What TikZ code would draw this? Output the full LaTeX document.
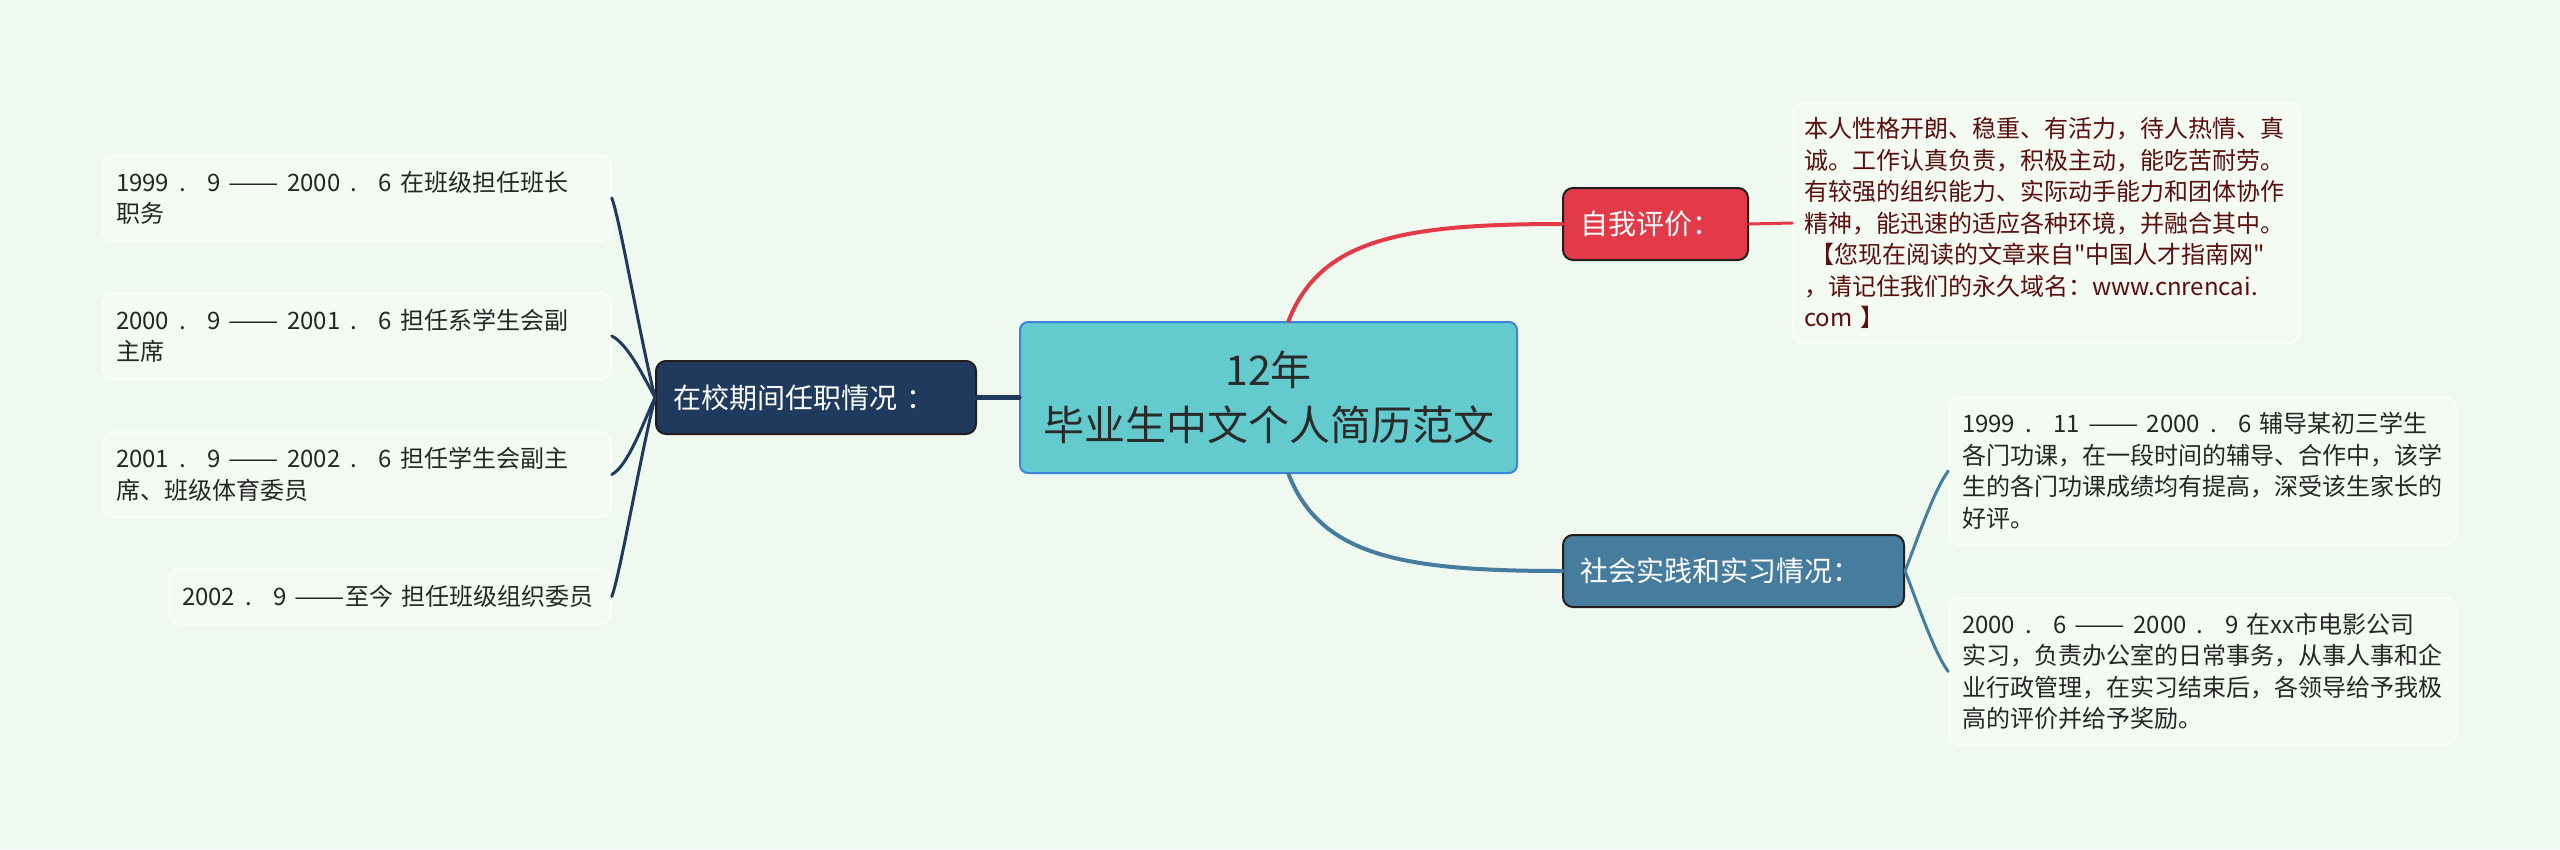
\documentclass[tikz,border=0pt]{standalone}
\usepackage{fontspec}
\usepackage{graphicx}
\newfontfamily\mainf{Noto Sans CJK SC}
\usetikzlibrary{calc}
\definecolor{bg}{HTML}{F0F9EF}
\definecolor{cfill}{HTML}{63CBCE}
\definecolor{cborder}{HTML}{3A84D9}
\definecolor{redc}{HTML}{E33A4A}
\definecolor{bluec}{HTML}{467C9E}
\definecolor{navyc}{HTML}{1F3A5D}
\definecolor{darkb}{HTML}{231E1E}
\definecolor{leaffill}{HTML}{F4FBF3}
\definecolor{leafborder}{HTML}{FCFEFC}
\definecolor{leaftext}{HTML}{262626}
\definecolor{selftext}{HTML}{5A0E0E}
\definecolor{ctext}{HTML}{2A2A2A}
\newcommand\pd{\hspace{0.42em}.\hspace{0.9em}}
\newcommand\dd{\resizebox{2.1em}{\height}{——}}
\begin{document}
\begin{tikzpicture}[x=1pt,y=-1pt,
  centralbox/.style={rounded corners=8pt, inner sep=0pt, line width=2pt, fill=cfill, draw=cborder,
    text=ctext, font=\mainf\fontsize{41}{55}\selectfont, align=center},
  branchbox/.style={rounded corners=10pt, inner ysep=0pt, inner xsep=17pt, line width=2pt, draw=darkb,
    text=white, font=\mainf\fontsize{28}{34}\selectfont, align=left, minimum height=72pt},
  leafbox/.style={rounded corners=10pt, inner ysep=0pt, inner xsep=13pt, line width=1.5pt,
    fill=leaffill, draw=leafborder, text=leaftext, font=\mainf\fontsize{24}{31.5}\selectfont, align=left},
  conn/.style={line width=3pt, line cap=round}
]
\useasboundingbox[fill=bg] (0,0) rectangle (2560,849);

% central
\node[centralbox, minimum width=497pt, minimum height=151pt] (c) at (1268.5,397.5) {12年\\毕业生中文个人简历范文};

% right branches
\node[branchbox, fill=redc, text width=151pt] (self) at (1655.5,224) {自我评价：};
\node[branchbox, fill=bluec, text width=307pt] (social) at (1733.5,571) {社会实践和实习情况：};
% left branch
\node[branchbox, fill=navyc, text width=286pt, minimum height=73pt] (school) at (816,397.5) {在校期间任职情况 ：};

% self text
\node[leafbox, text=selftext, inner xsep=11pt, text width=485pt, minimum height=240pt] (stext) at (2046.5,223) {本人性格开朗、稳重、有活力，待人热情、真\\诚。工作认真负责，积极主动，能吃苦耐劳。\\有较强的组织能力、实际动手能力和团体协作\\精神，能迅速的适应各种环境，并融合其中。\\\hspace*{6pt}【您现在阅读的文章来自"中国人才指南网"\\，请记住我们的永久域名：www.cnrencai.\\com 】};

% social leaves
\node[leafbox, text width=481pt, minimum height=148pt] (r1) at (2202.5,471) {1999\pd 11 \dd{} 2000\pd 6 辅导某初三学生\\各门功课，在一段时间的辅导、合作中，该学\\生的各门功课成绩均有提高，深受该生家长的\\好评。};
\node[leafbox, text width=481pt, minimum height=147pt] (r2) at (2202.5,671.5) {2000\pd 6 \dd{} 2000\pd 9 在xx市电影公司\\实习，负责办公室的日常事务，从事人事和企\\业行政管理，在实习结束后，各领导给予我极\\高的评价并给予奖励。};

% school leaves
\node[leafbox, text width=482pt, minimum height=86pt] (l1) at (357,198) {1999\pd 9 \dd{} 2000\pd 6 在班级担任班长\\职务};
\node[leafbox, text width=482pt, minimum height=86pt] (l2) at (357,336) {2000\pd 9 \dd{} 2001\pd 6 担任系学生会副\\主席};
\node[leafbox, text width=482pt, minimum height=85pt] (l3) at (357,474.5) {2001\pd 9 \dd{} 2002\pd 6 担任学生会副主\\席、班级体育委员};
\node[leafbox, text width=416pt, minimum height=55pt] (l4) at (390,596.5) {2002\pd 9 \dd{}至今 担任班级组织委员};

% connectors
\draw[conn, redc, line width=4pt] ([xshift=20pt]c.north) .. controls +(32,-82) and +(-160,0) .. (self.west);
\draw[conn, bluec, line width=4pt] ([xshift=20pt]c.south) .. controls +(32,82) and +(-160,0) .. (social.west);
\draw[conn, redc] (self.east) -- (stext.west);
\draw[conn, bluec] (social.east) .. controls +(10,-25) and +(-15,20) .. (r1.west);
\draw[conn, bluec] (social.east) .. controls +(10,25) and +(-15,-20) .. (r2.west);
\draw[conn, navyc, line width=5pt] (c.west) -- (school.east);
\draw[conn, navyc] (school.west) .. controls +(-15,-60) and +(8,20) .. (l1.east);
\draw[conn, navyc] (school.west) .. controls +(-12,-22) and +(16,8) .. (l2.east);
\draw[conn, navyc] (school.west) .. controls +(-12,26) and +(16,-8) .. (l3.east);
\draw[conn, navyc] (school.west) .. controls +(-15,60) and +(8,-20) .. (l4.east);
\end{tikzpicture}
\end{document}
